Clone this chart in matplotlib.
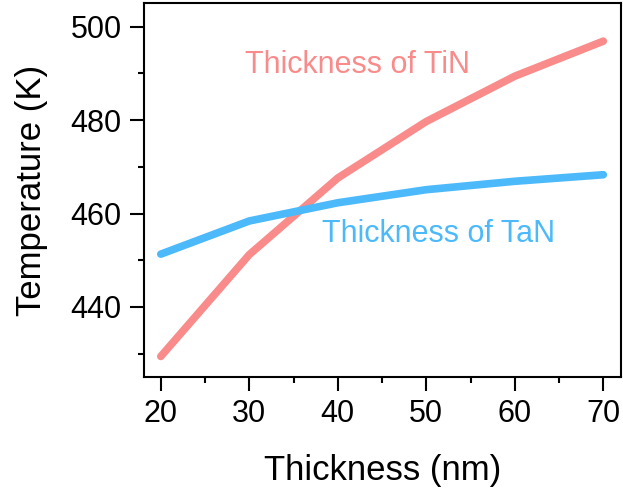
import matplotlib
matplotlib.use("Agg")
import matplotlib.pyplot as plt
from matplotlib.ticker import MultipleLocator

thickness = [20, 30, 40, 50, 60, 70]
temp_tin = [429.4, 451.2, 467.6, 479.7, 489.4, 496.9]
temp_tan = [451.3, 458.4, 462.3, 465.1, 466.9, 468.3]

tin_color = '#F98B8B'
tan_color = '#4CB9FB'

plt.rcParams['font.family'] = ['Liberation Sans', 'DejaVu Sans']

fig = plt.figure(figsize=(6.23, 4.95), dpi=100)
ax = fig.add_axes([0.2311, 0.2384, 0.7657, 0.7549])

ax.plot(thickness, temp_tin, color=tin_color, lw=5.5, solid_capstyle='round', solid_joinstyle='round')
ax.plot(thickness, temp_tan, color=tan_color, lw=5.5, solid_capstyle='round', solid_joinstyle='round')

ax.text(29.5, 490.1, 'Thickness of TiN', color=tin_color, fontsize=22, ha='left', va='baseline')
ax.text(38.2, 453.9, 'Thickness of TaN', color=tan_color, fontsize=22, ha='left', va='baseline')

ax.set_xlim(18.1, 72.0)
ax.set_ylim(425, 505)
ax.xaxis.set_major_locator(MultipleLocator(10))
ax.xaxis.set_minor_locator(MultipleLocator(5))
ax.yaxis.set_major_locator(MultipleLocator(20))
ax.yaxis.set_minor_locator(MultipleLocator(10))

ax.tick_params(which='major', length=10, width=1.5, labelsize=22)
ax.tick_params(which='minor', length=4, width=1.5)
ax.tick_params(axis='y', which='major', pad=6)
ax.tick_params(axis='x', which='major', pad=6)
for s in ax.spines.values():
    s.set_linewidth(1.5)

ax.set_xlabel('Thickness (nm)', fontsize=25, labelpad=18)
ax.set_ylabel('Temperature (K)', fontsize=25, labelpad=16)

fig.savefig('out.png', dpi=100)
